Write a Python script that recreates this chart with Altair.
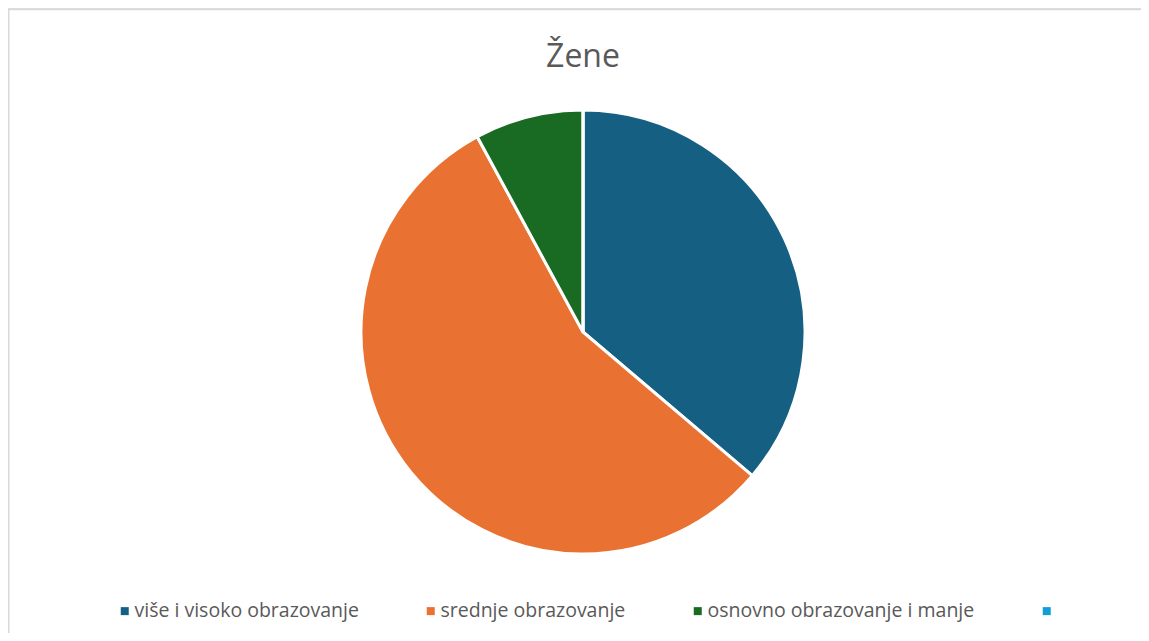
import altair as alt
import pandas as pd

categories = ["više i visoko obrazovanje", "srednje obrazovanje", "osnovno obrazovanje i manje", " "]
values = [36.2, 55.9, 7.9, 0.0]
colors = ["#156082", "#E97132", "#196B24", "#0F9ED5"]
title_text = "Žene"

df = pd.DataFrame({"kategorija": categories, "vrijednost": values, "red": list(range(len(categories)))})

W, H = 1133, 625
one = pd.DataFrame({"f": [0]})

top_line = alt.Chart(one).mark_rule(stroke="#d9d9d9", strokeWidth=1.5).encode(
    x=alt.value(0), x2=alt.value(W), y=alt.value(1.5)
)
left_line = alt.Chart(one).mark_rule(stroke="#d9d9d9", strokeWidth=1.5).encode(
    x=alt.value(0.75), y=alt.value(1.5), y2=alt.value(H)
)

pie = alt.Chart(df).mark_arc(radius=222, stroke="white", strokeWidth=3).encode(
    theta=alt.Theta("vrijednost:Q", stack=True),
    color=alt.Color(
        "kategorija:N",
        scale=alt.Scale(domain=categories, range=colors),
        sort=categories,
        legend=alt.Legend(
            title=None,
            orient="none",
            legendX=107,
            legendY=593,
            direction="horizontal",
            symbolType="square",
            symbolSize=64,
            symbolStrokeWidth=0,
            labelFont="Open Sans",
            labelFontSize=19.5,
            labelColor="#595959",
            labelOffset=0,
            columnPadding=62,
            labelLimit=400,
        ),
    ),
    order=alt.Order("red:Q"),
    x=alt.value(575),
    y=alt.value(324),
)

title = alt.Chart(pd.DataFrame({"t": [title_text]})).mark_text(
    font="Open Sans", fontSize=32, color="#595959", baseline="alphabetic", align="center"
).encode(text="t:N", x=alt.value(575), y=alt.value(59))

chart = alt.layer(top_line, left_line, pie, title).properties(
    width=W, height=H, autosize=alt.AutoSizeParams(type="none"), padding=0
).configure_view(stroke="transparent", strokeWidth=0).configure(background="white")

chart.save("out.html", embed_options={"renderer": "svg", "actions": False})
